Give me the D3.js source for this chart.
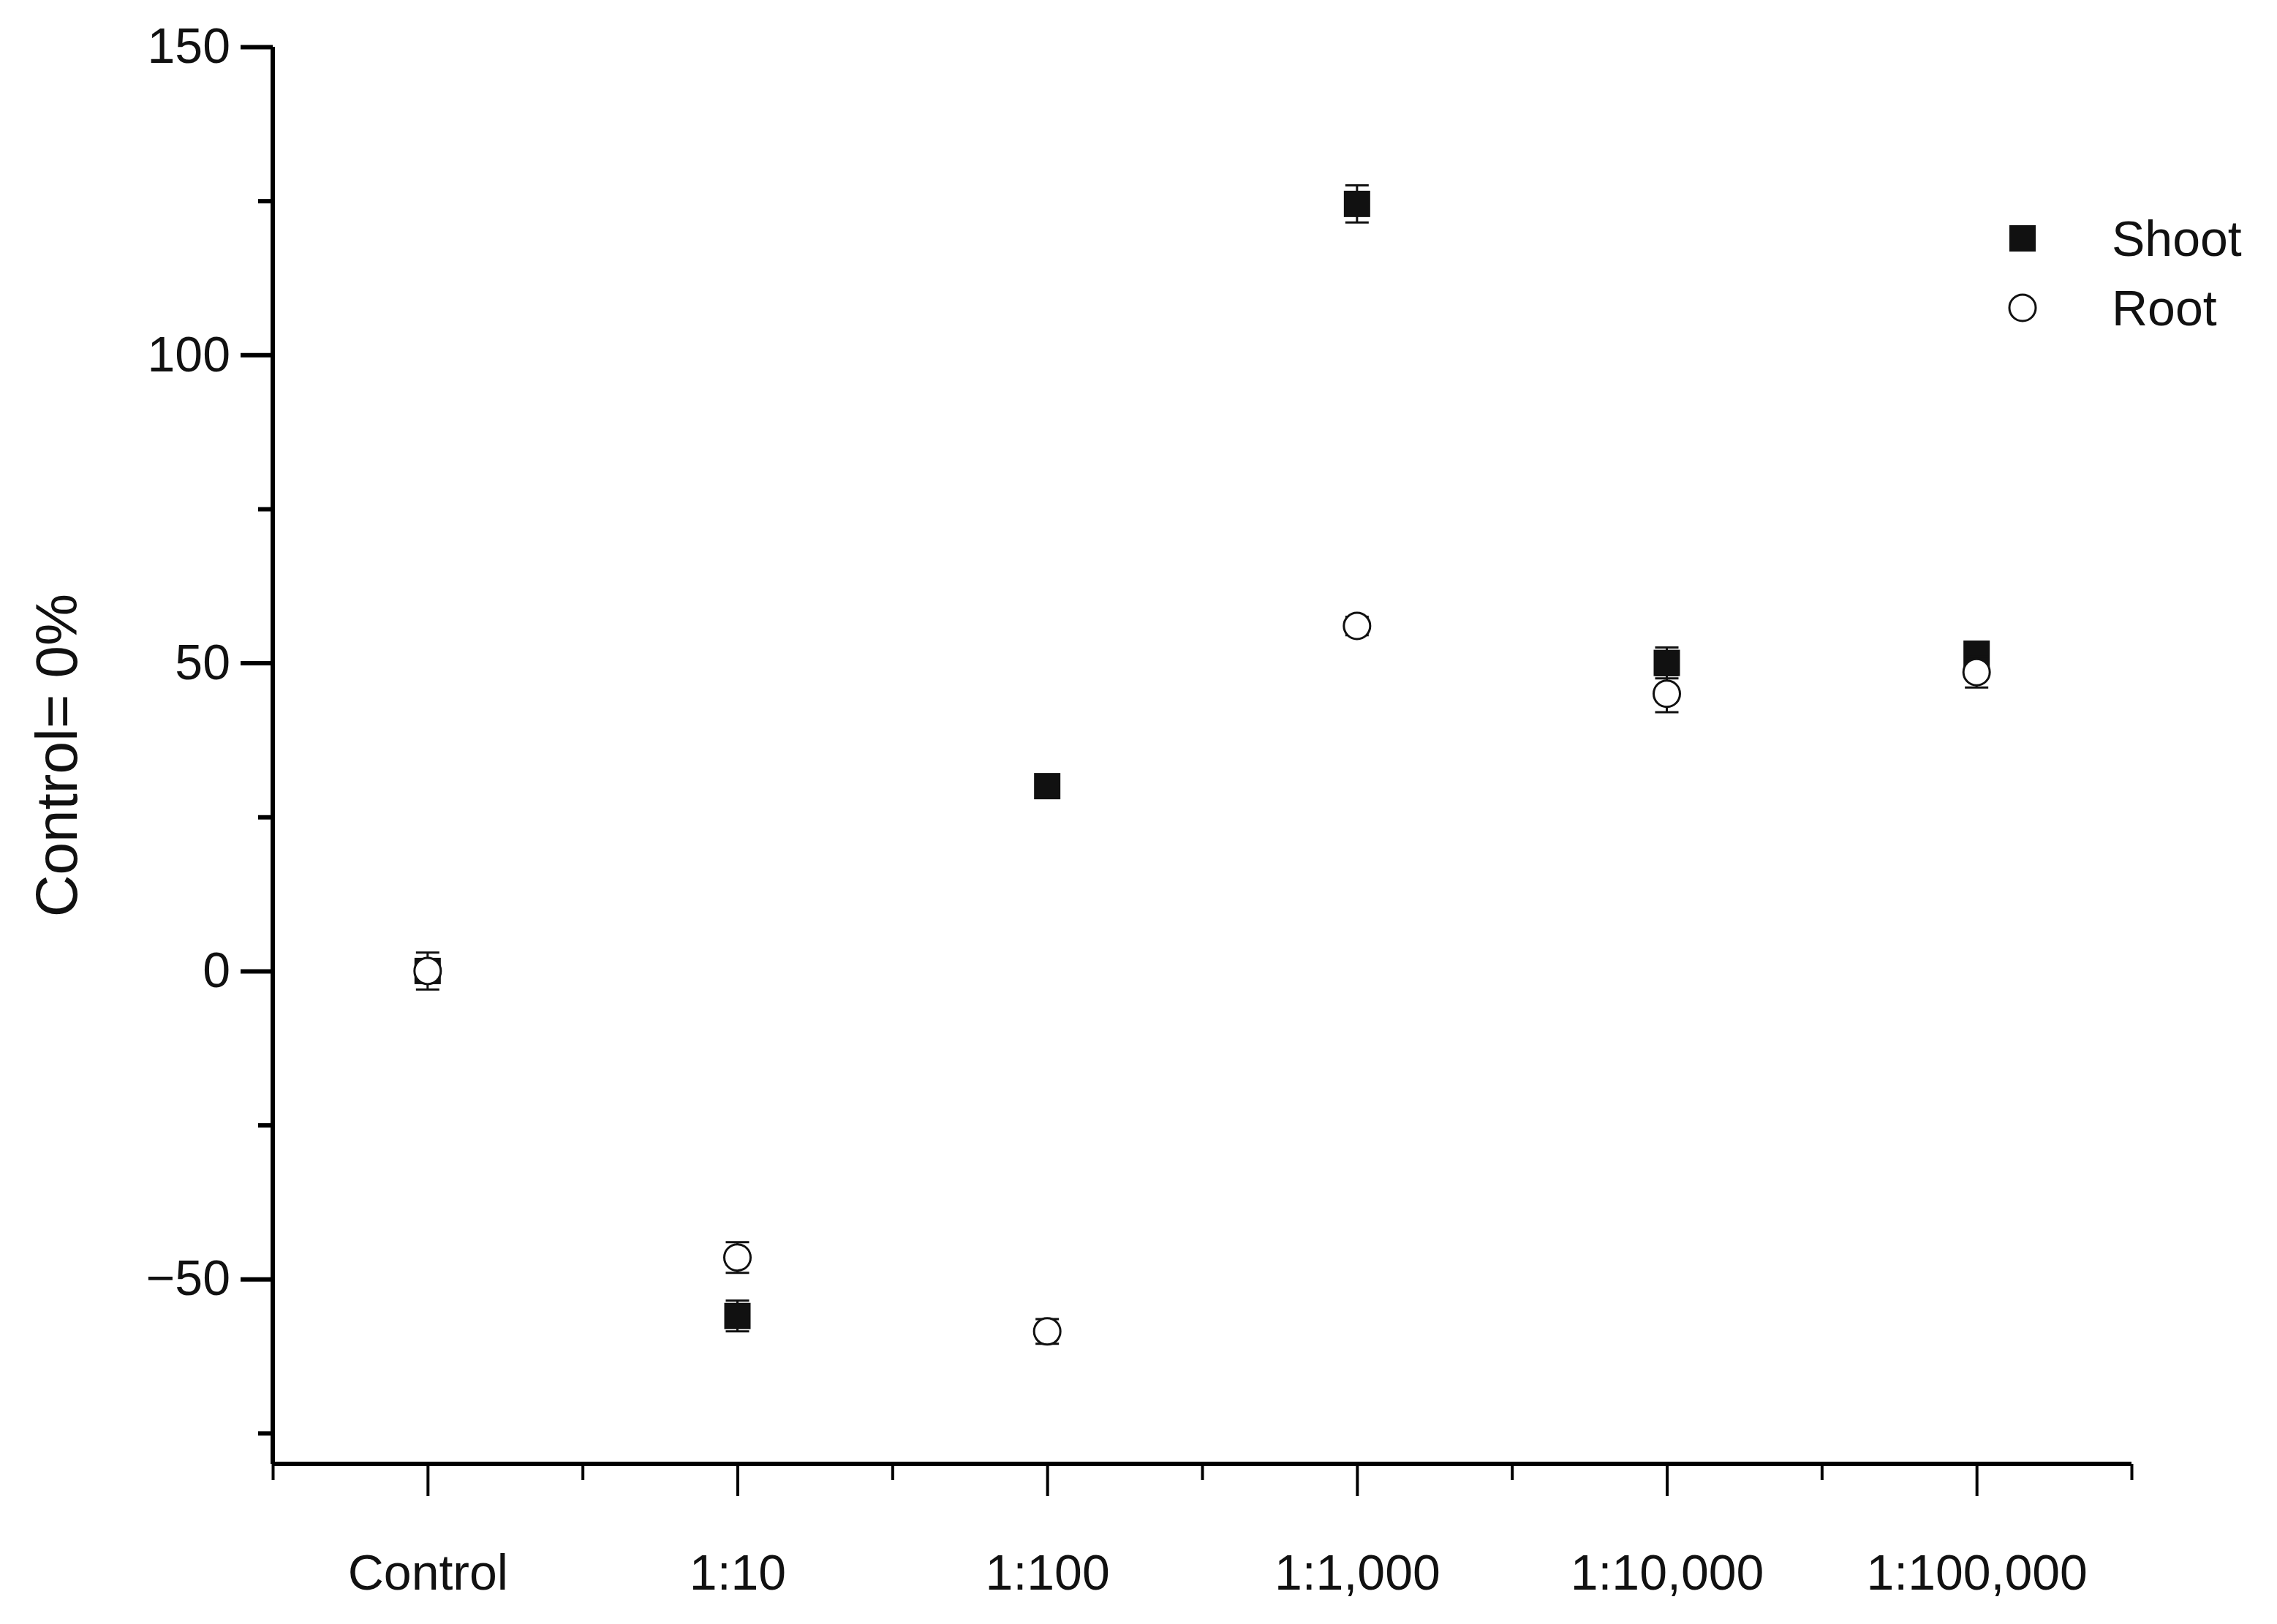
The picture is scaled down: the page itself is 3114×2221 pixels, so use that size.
<!DOCTYPE html>
<html>
<head>
<meta charset="utf-8">
<script src="https://cdn.jsdelivr.net/npm/d3@7"></script>
<style>
  body { margin: 0; background: #fff; }
  text { font-family: "Liberation Sans", Arial, sans-serif; fill: #111; }
</style>
</head>
<body>
<svg id="chart" width="3114" height="2221"></svg>
<script>
// data
const categories = ["Control", "1:10", "1:100", "1:1,000", "1:10,000", "1:100,000"];
const shootValues = [0, -56, 30, 124.5, 50, 51.5];
const shootErrors = [0, 2.5, 1.5, 3, 2.5, 1.5];
const rootValues = [0, -46.5, -58.5, 56, 45, 48.5];
const rootErrors = [3, 2.5, 2, 1.5, 3, 2.5];
const yTicks = [-50, 0, 50, 100, 150];
const yMinorTicks = [-75, -25, 25, 75, 125];

const svg = d3.select("#chart");
const mLeft = 373, mRight = 2915, mTop = 64, mBottom = 2002;

const x = d3.scaleLinear().domain([-0.5, categories.length - 0.5]).range([mLeft, mRight]);
const y = d3.scaleLinear().domain([-80, 150]).range([mBottom, mTop]);

// y axis
const yAxis = svg.append("g").attr("transform", `translate(${mLeft},0)`)
  .call(d3.axisLeft(y).tickValues(yTicks).tickSize(44).tickPadding(14).tickFormat(d3.format("d")));
yAxis.select(".domain").attr("stroke-width", 6).attr("d", `M0,${mTop}V${mBottom}`);
yAxis.selectAll(".tick line").attr("stroke-width", 6);
yAxis.selectAll(".tick text").attr("font-size", 68).style("font-family", "Liberation Sans, Arial");
svg.append("g").attr("transform", `translate(${mLeft},0)`)
  .call(d3.axisLeft(y).tickValues(yMinorTicks).tickSize(20).tickFormat(""))
  .call(g => g.select(".domain").remove())
  .selectAll("line").attr("stroke-width", 6);

// x axis
const xMajor = d3.range(categories.length);
const xMinor = d3.range(-0.5, categories.length, 1);
const xAxis = svg.append("g").attr("transform", `translate(0,${mBottom})`)
  .call(d3.axisBottom(x).tickValues(xMajor).tickSize(44).tickPadding(80).tickFormat(i => categories[i]));
xAxis.select(".domain").attr("stroke-width", 6).attr("d", `M${mLeft},0H${mRight}`);
xAxis.selectAll(".tick line").attr("stroke-width", 4);
xAxis.selectAll(".tick text").attr("font-size", 68).style("font-family", "Liberation Sans, Arial");
svg.append("g").attr("transform", `translate(0,${mBottom})`)
  .call(d3.axisBottom(x).tickValues(xMinor).tickSize(22).tickFormat(""))
  .call(g => g.select(".domain").remove())
  .selectAll("line").attr("stroke-width", 4);

// y title
svg.append("text")
  .attr("transform", `translate(105,${y(35)}) rotate(-90)`)
  .attr("text-anchor", "middle")
  .attr("font-size", 80)
  .text("Control= 0%");

// error bars
function drawErrors(vals, errs) {
  const g = svg.append("g").attr("stroke", "#111").attr("stroke-width", 3);
  vals.forEach((v, i) => {
    if (!errs[i]) return;
    const cx = x(i);
    g.append("line").attr("x1", cx).attr("x2", cx).attr("y1", y(v - errs[i])).attr("y2", y(v + errs[i]));
    [v - errs[i], v + errs[i]].forEach(e =>
      g.append("line").attr("x1", cx - 16).attr("x2", cx + 16).attr("y1", y(e)).attr("y2", y(e)));
  });
}
drawErrors(shootValues, shootErrors);
svg.append("g").selectAll("rect").data(shootValues).join("rect")
  .attr("x", (d, i) => x(i) - 18).attr("y", d => y(d) - 18)
  .attr("width", 36).attr("height", 36).attr("fill", "#111");

drawErrors(rootValues, rootErrors);
svg.append("g").selectAll("circle").data(rootValues).join("circle")
  .attr("cx", (d, i) => x(i)).attr("cy", d => y(d)).attr("r", 18)
  .attr("fill", "#fff").attr("stroke", "#111").attr("stroke-width", 3);

// legend
const lg = svg.append("g");
lg.append("rect").attr("x", 2748).attr("y", 308).attr("width", 36).attr("height", 36).attr("fill", "#111");
lg.append("circle").attr("cx", 2766).attr("cy", 421).attr("r", 18).attr("fill", "#fff").attr("stroke", "#111").attr("stroke-width", 3);
lg.append("text").attr("x", 2888).attr("y", 326).attr("dy", "0.35em").attr("font-size", 68).text("Shoot");
lg.append("text").attr("x", 2888).attr("y", 421).attr("dy", "0.35em").attr("font-size", 68).text("Root");
</script>
</body>
</html>
